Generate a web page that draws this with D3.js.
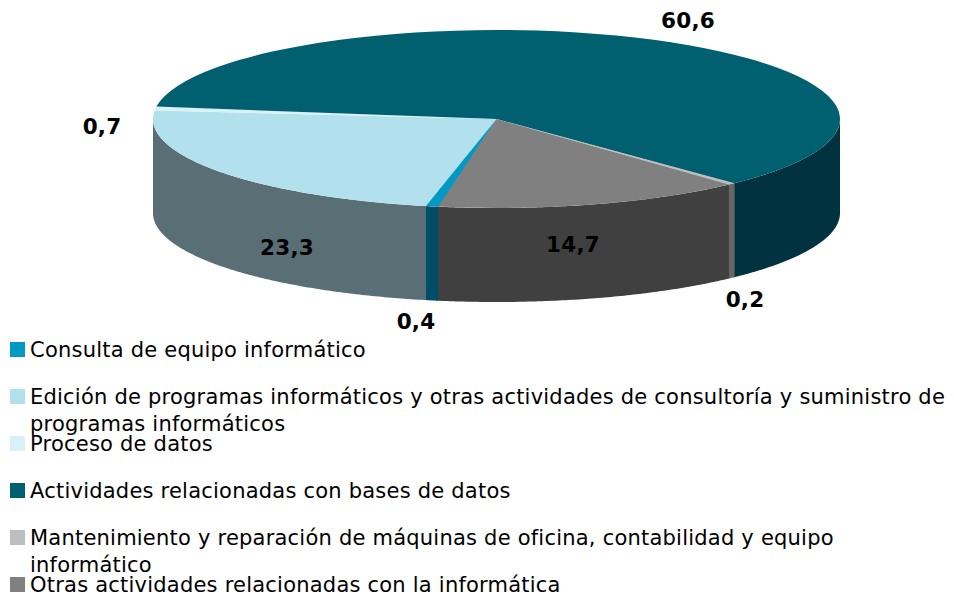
<!DOCTYPE html>
<html><head><meta charset="utf-8">
<script src="https://cdn.jsdelivr.net/npm/d3@7"></script>
<style>html,body{margin:0;background:#fff}svg{display:block}text{font-family:"DejaVu Sans",sans-serif}</style>
</head><body><svg id="c" width="954" height="598"></svg>
<script>
const categories=["Consulta de equipo informático","Edición de programas informáticos y otras actividades de consultoría y suministro de programas informáticos","Proceso de datos","Actividades relacionadas con bases de datos","Mantenimiento y reparación de máquinas de oficina, contabilidad y equipo informático","Otras actividades relacionadas con la informática"];
const legendLines=[["Consulta de equipo informático"],["Edición de programas informáticos y otras actividades de consultoría y suministro de","programas informáticos"],["Proceso de datos"],["Actividades relacionadas con bases de datos"],["Mantenimiento y reparación de máquinas de oficina, contabilidad y equipo","informático"],["Otras actividades relacionadas con la informática"]];
const values=[0.4,23.3,0.7,60.6,0.2,14.7];
const labels=["0,4","23,3","0,7","60,6","0,2","14,7"];
const topColors=["#0099c4","#b2e1ed","#d9f0f6","#006070","#bebebe","#808080"];
const sideColors=["#004d68","#5a6e75","#6d8087","#00333f","#666666","#404040"];
const labelPos=[[416,321],[287,247],[102,126],[688,20],[745,299],[573,244]];

const cx=496.5,cy=119,rx=343.5,ry=89,depth=94,TAU=Math.PI*2;
const svg=d3.select("#c");
const start=190.1*Math.PI/180;
const pad=0.3*Math.PI/180;
const arcs=d3.pie().sort(null).startAngle(start).endAngle(start+TAU)(values).map(d=>{
  // the thinnest slices are drawn slightly widened and on top so they stay visible
  const thin=d.value<0.5;
  return {...d,thin,startAngle:d.startAngle-(thin?pad:0),endAngle:d.endAngle+(thin?pad:0)};
});
const order=d3.range(arcs.length).sort((a,b)=>d3.ascending(arcs[a].thin,arcs[b].thin));
const px=a=>cx+rx*Math.sin(a), py=a=>cy-ry*Math.cos(a);

// front wall
const area=d3.area().x(a=>px(a)).y0(a=>py(a)).y1(a=>py(a)+depth);
function frontRanges(s,e){
  const out=[];
  [[Math.PI/2,Math.PI*1.5],[Math.PI/2+TAU,Math.PI*1.5+TAU]].forEach(([lo,hi])=>{
    const a=Math.max(s,lo),b=Math.min(e,hi);
    if(b>a) out.push([a,b]);
  });
  return out;
}
const walls=svg.append("g");
order.forEach(i=>{
  const d=arcs[i];
  frontRanges(d.startAngle,d.endAngle).forEach(([a,b])=>{
    const n=Math.max(2,Math.ceil((b-a)/0.01));
    const pts=d3.range(n+1).map(k=>a+(b-a)*k/n);
    walls.append("path").attr("d",area(pts)).attr("fill",sideColors[i]);
  });
});

// top face
const topFace=svg.append("g").attr("transform",`translate(${cx},${cy}) scale(1,${ry/rx})`);
const arc=d3.arc().innerRadius(0).outerRadius(rx);
topFace.selectAll("path").data(order).join("path").attr("d",i=>arc(arcs[i])).attr("fill",i=>topColors[i]);

// value labels
svg.append("g").selectAll("text").data(labels).join("text")
  .attr("x",(d,i)=>labelPos[i][0]).attr("y",(d,i)=>labelPos[i][1])
  .attr("dy","0.35em").attr("text-anchor","middle")
  .attr("font-size",21.5).attr("letter-spacing",0.2).attr("font-weight","bold").attr("fill","#000").text(d=>d);

// legend
const rowY=d3.scaleLinear().domain([0,5]).range([342,577]);
const leg=svg.append("g").selectAll("g").data(categories).join("g");
leg.append("rect").attr("x",10).attr("y",(d,i)=>rowY(i)).attr("width",15).attr("height",15).attr("fill",(d,i)=>topColors[i]);
leg.each(function(d,i){
  const t=d3.select(this).append("text").attr("font-size",21).attr("letter-spacing",0.22).attr("fill","#000");
  legendLines[i].forEach((l,k)=>t.append("tspan").attr("x",30).attr("y",rowY(i)+15+k*26.5).text(l));
});
</script></body></html>
